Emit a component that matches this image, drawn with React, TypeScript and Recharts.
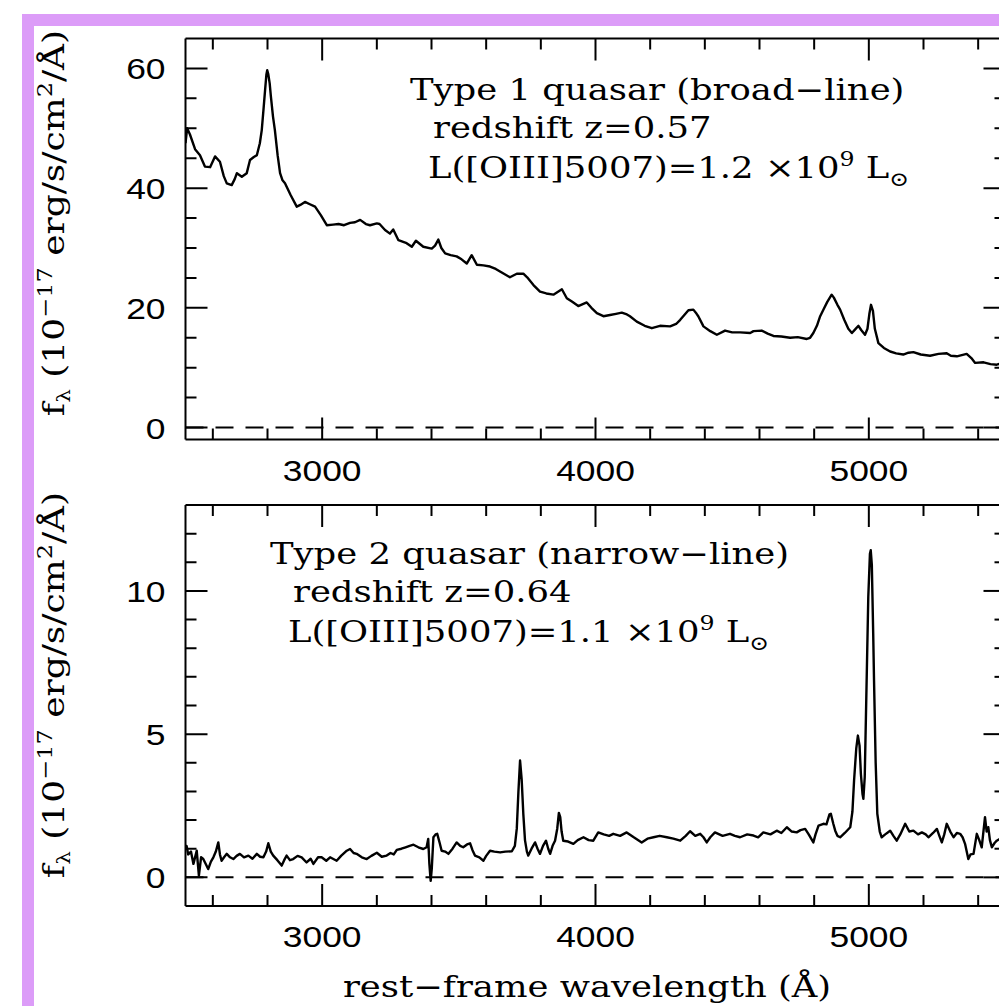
import React from 'react'
import { ComposedChart, Line, Scatter, XAxis, YAxis, ReferenceLine } from 'recharts'

// rest-frame wavelength (A) and flux (1e-17 erg/s/cm2/A), type 1 quasar
const t1Wave = [
  2500, 2506, 2516, 2535, 2553, 2571, 2590, 2608, 2626, 2640, 2651, 2669, 2680, 2688, 2706, 2724,
  2736, 2750, 2761, 2772, 2779, 2786, 2791, 2796, 2799, 2803, 2808, 2812, 2820, 2827, 2837, 2846,
  2855, 2864, 2885, 2907, 2920, 2937, 2955, 2974, 2995, 3017, 3040, 3060, 3080, 3102, 3120, 3139,
  3160, 3175, 3200, 3210, 3230, 3248, 3260, 3279, 3309, 3328, 3343, 3370, 3401, 3413, 3425, 3436,
  3450, 3470, 3492, 3510, 3529, 3547, 3566, 3590, 3614, 3635, 3657, 3687, 3712, 3736, 3750, 3773,
  3797, 3820, 3846, 3877, 3895, 3915, 3937, 3968, 3985, 4005, 4029, 4053, 4075, 4096, 4115, 4126,
  4151, 4180, 4206, 4236, 4273, 4295, 4310, 4325, 4340, 4358, 4370, 4376, 4395, 4420, 4444, 4474,
  4500, 4529, 4566, 4578, 4608, 4630, 4651, 4680, 4712, 4740, 4773, 4785, 4797, 4810, 4822, 4835,
  4848, 4864, 4872, 4885, 4895, 4910, 4925, 4938, 4950, 4962, 4972, 4986, 4995, 5002, 5008, 5015,
  5022, 5035, 5055, 5078, 5100, 5126, 5145, 5163, 5190, 5224, 5255, 5285, 5300, 5322, 5340, 5358,
  5375, 5389, 5420, 5445, 5468, 5485, 5500,
]
const t1Flux = [
  47.5, 50.0, 49.0, 46.5, 45.5, 43.6, 43.5, 45.3, 44.4, 42.0, 40.8, 40.5, 41.5, 42.5, 41.9, 42.5,
  44.7, 45.2, 45.5, 47.5, 49.7, 53.5, 56.3, 59.0, 59.7, 59.0, 57.5, 55.5, 52.0, 49.7, 45.5, 42.5,
  41.3, 40.8, 38.8, 36.9, 37.2, 37.7, 37.3, 36.9, 35.5, 33.8, 33.9, 34.0, 33.8, 34.2, 34.3, 34.7,
  34.0, 33.8, 34.1, 34.0, 33.0, 32.4, 33.1, 31.3, 30.8, 30.2, 31.2, 30.2, 29.9, 30.4, 31.4, 30.0,
  29.1, 28.8, 28.6, 28.1, 27.4, 28.8, 27.2, 27.1, 26.9, 26.5, 25.9, 25.1, 25.7, 25.7, 25.1, 23.8,
  22.7, 22.4, 22.2, 23.1, 21.6, 21.0, 20.3, 20.9, 20.0, 19.1, 18.6, 18.8, 19.0, 19.2, 18.9, 18.6,
  17.7, 17.0, 16.6, 17.0, 16.9, 17.3, 18.0, 18.8, 19.6, 19.7, 19.0, 18.6, 16.9, 16.1, 15.5, 16.2,
  15.9, 15.9, 15.8, 16.1, 16.2, 15.7, 15.3, 15.2, 15.0, 15.1, 14.8, 15.0, 15.8, 17.0, 18.6, 19.8,
  21.0, 22.2, 21.7, 20.5, 19.7, 18.0, 16.5, 15.8, 16.4, 17.0, 16.3, 15.5, 16.5, 19.0, 20.5, 19.5,
  16.5, 14.1, 13.3, 12.7, 12.4, 12.2, 12.5, 12.6, 12.2, 12.0, 12.3, 12.4, 12.0, 11.9, 12.1, 12.3,
  11.6, 10.8, 10.9, 10.6, 10.5, 10.7, 10.5,
]

// type 2 quasar
const t2Wave = [
  2500, 2504, 2510, 2520, 2529, 2541, 2549, 2557, 2565, 2575, 2583, 2593, 2602, 2611, 2620, 2626,
  2632, 2641, 2651, 2663, 2675, 2687, 2699, 2714, 2730, 2745, 2761, 2773, 2785, 2795, 2803, 2812,
  2821, 2836, 2852, 2861, 2870, 2882, 2894, 2910, 2925, 2943, 2958, 2968, 2985, 2998, 3015, 3029,
  3053, 3070, 3090, 3102, 3115, 3126, 3145, 3163, 3180, 3200, 3218, 3236, 3250, 3262, 3273, 3290,
  3305, 3320, 3334, 3352, 3370, 3382, 3388, 3392, 3397, 3401, 3407, 3415, 3421, 3430, 3437, 3450,
  3462, 3477, 3492, 3505, 3516, 3530, 3541, 3550, 3559, 3575, 3590, 3600, 3614, 3630, 3651, 3670,
  3694, 3705, 3712, 3718, 3724, 3730, 3736, 3742, 3749, 3754, 3766, 3779, 3788, 3797, 3808, 3819,
  3827, 3834, 3843, 3852, 3860, 3866, 3871, 3876, 3882, 3900, 3919, 3935, 3956, 3975, 3992, 4010,
  4030, 4050, 4065, 4090, 4114, 4140, 4169, 4190, 4212, 4235, 4261, 4285, 4310, 4330, 4346, 4365,
  4383, 4395, 4407, 4420, 4437, 4465, 4492, 4510, 4529, 4555, 4578, 4595, 4614, 4640, 4663, 4680,
  4700, 4718, 4736, 4750, 4767, 4780, 4797, 4805, 4816, 4834, 4845, 4856, 4861, 4870, 4877, 4885,
  4895, 4912, 4932, 4940, 4946, 4954, 4960, 4966, 4971, 4977, 4980, 4985, 4992, 4998, 5004, 5007,
  5011, 5016, 5019, 5025, 5031, 5040, 5047, 5060, 5078, 5090, 5102, 5115, 5133, 5148, 5163, 5180,
  5194, 5208, 5218, 5235, 5249, 5258, 5267, 5276, 5285, 5298, 5310, 5322, 5334, 5343, 5352, 5364,
  5372, 5383, 5395, 5404, 5413, 5425, 5431, 5437, 5443, 5450, 5460, 5468, 5480, 5490, 5500,
]
const t2Flux = [
  1.1, 1.1, 0.8, 0.9, 0.47, 0.93, 0.06, 0.7, 0.64, 0.45, 0.29, 0.55, 0.7, 0.9, 1.22, 0.8,
  0.58, 0.7, 0.82, 0.7, 0.64, 0.75, 0.82, 0.7, 0.76, 0.65, 0.82, 0.72, 0.7, 0.9, 1.19, 0.9,
  0.76, 0.6, 0.41, 0.6, 0.76, 0.6, 0.64, 0.75, 0.7, 0.52, 0.65, 0.47, 0.7, 0.7, 0.58, 0.7,
  0.58, 0.76, 0.93, 0.99, 0.85, 0.82, 0.7, 0.64, 0.75, 0.86, 0.72, 0.76, 0.85, 0.8, 0.96, 1.0,
  1.05, 1.1, 1.14, 1.05, 0.99, 1.05, 1.34, 0.5, -0.12, 0.3, 1.4, 1.5, 1.52, 1.2, 0.93, 0.9,
  0.82, 1.0, 1.22, 1.1, 1.05, 1.15, 1.19, 0.95, 0.76, 0.7, 0.58, 0.75, 0.93, 0.9, 0.87, 0.9,
  0.91, 1.1, 1.7, 3.0, 4.08, 3.4, 2.2, 1.3, 0.9, 0.76, 1.0, 1.22, 1.0, 0.82, 1.1, 1.28,
  1.0, 0.82, 1.1, 1.28, 1.7, 2.25, 2.1, 1.6, 1.28, 1.25, 1.17, 1.3, 1.4, 1.3, 1.28, 1.57,
  1.5, 1.45, 1.52, 1.45, 1.57, 1.4, 1.22, 1.35, 1.4, 1.45, 1.4, 1.35, 1.28, 1.45, 1.61, 1.45,
  1.52, 1.4, 1.22, 1.4, 1.57, 1.45, 1.52, 1.45, 1.4, 1.5, 1.46, 1.4, 1.57, 1.5, 1.63, 1.55,
  1.75, 1.6, 1.57, 1.65, 1.69, 1.5, 1.22, 1.5, 1.81, 1.87, 1.85, 2.2, 2.22, 1.87, 1.63, 1.45,
  1.4, 1.55, 1.75, 2.3, 3.38, 4.5, 4.95, 4.6, 3.6, 2.9, 2.74, 3.5, 6.88, 9.8, 11.3, 11.42,
  10.9, 8.5, 6.88, 4.0, 2.22, 1.6, 1.4, 1.5, 1.63, 1.45, 1.28, 1.5, 1.87, 1.6, 1.63, 1.5,
  1.57, 1.5, 1.4, 1.55, 1.69, 1.45, 1.22, 1.5, 1.87, 1.6, 1.4, 1.55, 1.52, 1.4, 1.17, 0.64,
  0.8, 0.82, 1.52, 1.3, 1.05, 2.1, 1.6, 1.75, 1.3, 1.05, 1.2, 1.28, 1.35, 1.2, 1.3,
]

const xTicks = [2600, 2800, 3000, 3200, 3400, 3600, 3800, 4000, 4200, 4400, 4600, 4800, 5000, 5200, 5400]
const xLabels = [3000, 4000, 5000]
const xDomain: [number, number] = [2500, 5500]
const t1YTicks = [0, 5, 10, 15, 20, 25, 30, 35, 40, 45, 50, 55, 60]
const t1YLabels = [0, 20, 40, 60]
const t2YTicks = [0, 1, 2, 3, 4, 5, 6, 7, 8, 9, 10, 11, 12]
const t2YLabels = [0, 5, 10]

const SANS = '"Liberation Sans", Arial, sans-serif'
const SERIF = '"DejaVu Serif", serif'
const SX = 1.18 // the original figure's lettering is wide
const BORDER = '#dc9cf8'

const toRows = (wave: number[], flux: number[]) => wave.map((w, i) => ({ wave: w, flux: flux[i] }))

// inward tick marks on all four sides of the box, placed by the chart's own scales
type Side = 'bottom' | 'top' | 'left' | 'right'
interface TickPt { wave: number; flux: number; side: Side }

const tickPoints = (yDomain: [number, number], yTicks: number[]): TickPt[] => [
  ...xTicks.map((v) => ({ wave: v, flux: yDomain[0], side: 'bottom' as Side })),
  ...xTicks.map((v) => ({ wave: v, flux: yDomain[1], side: 'top' as Side })),
  ...yTicks.map((v) => ({ wave: xDomain[0], flux: v, side: 'left' as Side })),
  ...yTicks.map((v) => ({ wave: xDomain[1], flux: v, side: 'right' as Side })),
]

const tickMark = (yLabels: number[]) => (p: any) => {
  const cx = Number(p.cx)
  const cy = Number(p.cy)
  const d: TickPt = p.payload
  const vertical = d.side === 'bottom' || d.side === 'top'
  const major = vertical ? xLabels.includes(d.wave) : yLabels.includes(d.flux)
  const len = major ? 22 : 11
  const dx = d.side === 'left' ? len : d.side === 'right' ? -len : 0
  const dy = d.side === 'bottom' ? -len : d.side === 'top' ? len : 0
  return <line x1={cx} y1={cy} x2={cx + dx} y2={cy + dy} stroke="#000" strokeWidth={2} />
}

const xLabel = (props: any) => {
  const v = props.payload.value
  if (!xLabels.includes(v)) return <g />
  return (
    <text transform={`translate(${Number(props.x)},${Number(props.y) + 41}) scale(${SX},1)`} textAnchor="middle"
      fontFamily={SANS} fontSize={30} fill="#000">{v}</text>
  )
}

const yLabel = (labels: number[]) => (props: any) => {
  const v = props.payload.value
  if (!labels.includes(v)) return <g />
  return (
    <text transform={`translate(${Number(props.x) - 20},${Number(props.y) + 11}) scale(${SX},1)`} textAnchor="end"
      fontFamily={SANS} fontSize={30} fill="#000">{v}</text>
  )
}

interface PanelProps {
  rows: { wave: number; flux: number }[]
  height: number
  top: number
  bottom: number
  yDomain: [number, number]
  yTicks: number[]
  yLabels: number[]
}

// plot box: left 185.5, right 1005.5 (past the window edge, as in the original crop)
const Panel = ({ rows, height, top, bottom, yDomain, yTicks, yLabels }: PanelProps) => (
  <ComposedChart width={1010} height={height} data={rows}
    margin={{ top: top - 2, right: 2.5, bottom: bottom - 40, left: 0.5 }}>
    <XAxis xAxisId="b" dataKey="wave" type="number" domain={xDomain} allowDataOverflow
      ticks={xTicks} interval={0} height={40} tickSize={0} tickMargin={0} tickLine={false}
      axisLine={{ stroke: '#000', strokeWidth: 2 }} tick={xLabel} />
    <XAxis xAxisId="t" orientation="top" dataKey="wave" type="number" domain={xDomain} allowDataOverflow
      height={2} tickLine={false} tick={false} axisLine={{ stroke: '#000', strokeWidth: 2 }} />
    <YAxis yAxisId="l" type="number" domain={yDomain} allowDataOverflow
      ticks={yTicks} interval={0} width={185} tickSize={0} tickMargin={0} tickLine={false}
      axisLine={{ stroke: '#000', strokeWidth: 2 }} tick={yLabel(yLabels)} />
    <YAxis yAxisId="r" orientation="right" type="number" domain={yDomain} allowDataOverflow
      width={2} tickLine={false} tick={false} axisLine={{ stroke: '#000', strokeWidth: 2 }} />
    <ReferenceLine xAxisId="b" yAxisId="l" y={0} stroke="#000" strokeWidth={2} strokeDasharray="18 12" />
    <Line xAxisId="b" yAxisId="l" dataKey="flux" type="linear" stroke="#000" strokeWidth={2.4}
      strokeLinejoin="round" dot={false} isAnimationActive={false} />
    <Scatter xAxisId="b" yAxisId="l" data={tickPoints(yDomain, yTicks)} dataKey="flux"
      shape={tickMark(yLabels)} isAnimationActive={false} />
  </ComposedChart>
)

const YTitle = ({ cx, cy }: { cx: number; cy: number }) => (
  <text transform={`translate(${cx},${cy}) rotate(-90) scale(1.2,1)`} textAnchor="middle"
    fontFamily={SERIF} fontSize={30} fill="#000">
    <tspan>f</tspan>
    <tspan dy={6} fontSize={18}>λ</tspan>
    <tspan dy={-6}> (10</tspan>
    <tspan dy={-12} fontSize={20}>−17</tspan>
    <tspan dy={12}> erg/s/cm</tspan>
    <tspan dy={-12} fontSize={20}>2</tspan>
    <tspan dy={12}>/Å)</tspan>
  </text>
)

const Note = ({ x, y, type, kind, z, lum }: { x: number; y: number; type: string; kind: string; z: string; lum: string }) => (
  <g fontFamily={SERIF} fontSize={30} fill="#000">
    <text transform={`translate(${x},${y}) scale(${SX},1)`}>{`Type ${type} quasar (${kind}−line)`}</text>
    <text transform={`translate(${x + 23},${y + 38}) scale(${SX},1)`}>{`redshift z=${z}`}</text>
    <text transform={`translate(${x + 18},${y + 78}) scale(${SX},1)`}>
      <tspan>{`L([OIII]5007)=${lum} ×10`}</tspan>
      <tspan dy={-12} fontSize={20}>9</tspan>
      <tspan dy={12}> L</tspan>
      <tspan dy={8} fontSize={20}>⊙</tspan>
    </text>
  </g>
)

export default function App() {
  const rows1 = toRows(t1Wave, t1Flux)
  const rows2 = toRows(t2Wave, t2Flux)
  return (
    <div style={{ position: 'fixed', left: 0, top: 0, width: 999, height: 1006, overflow: 'hidden', background: '#fff' }}>
      <div style={{ position: 'absolute', left: 22, top: 14, width: 1100, height: 1100,
        borderTop: `12px solid ${BORDER}`, borderLeft: `12px solid ${BORDER}` }} />
      <div style={{ position: 'absolute', left: 0, top: 0 }}>
        <Panel rows={rows1} height={490} top={38.5} bottom={50.5} yDomain={[-2, 65]}
          yTicks={t1YTicks} yLabels={t1YLabels} />
      </div>
      <div style={{ position: 'absolute', left: 0, top: 460 }}>
        <Panel rows={rows2} height={546} top={45} bottom={100} yDomain={[-1, 13]}
          yTicks={t2YTicks} yLabels={t2YLabels} />
      </div>
      <svg style={{ position: 'absolute', left: 0, top: 0 }} width={999} height={1006}>
        <YTitle cx={64} cy={223} />
        <YTitle cx={64} cy={685} />
        <Note x={410} y={100} type="1" kind="broad" z="0.57" lum="1.2" />
        <Note x={270} y={564} type="2" kind="narrow" z="0.64" lum="1.1" />
        <text transform={`translate(587,997) scale(${SX},1)`} textAnchor="middle"
          fontFamily={SERIF} fontSize={30} fill="#000">rest−frame wavelength (Å)</text>
      </svg>
    </div>
  )
}
